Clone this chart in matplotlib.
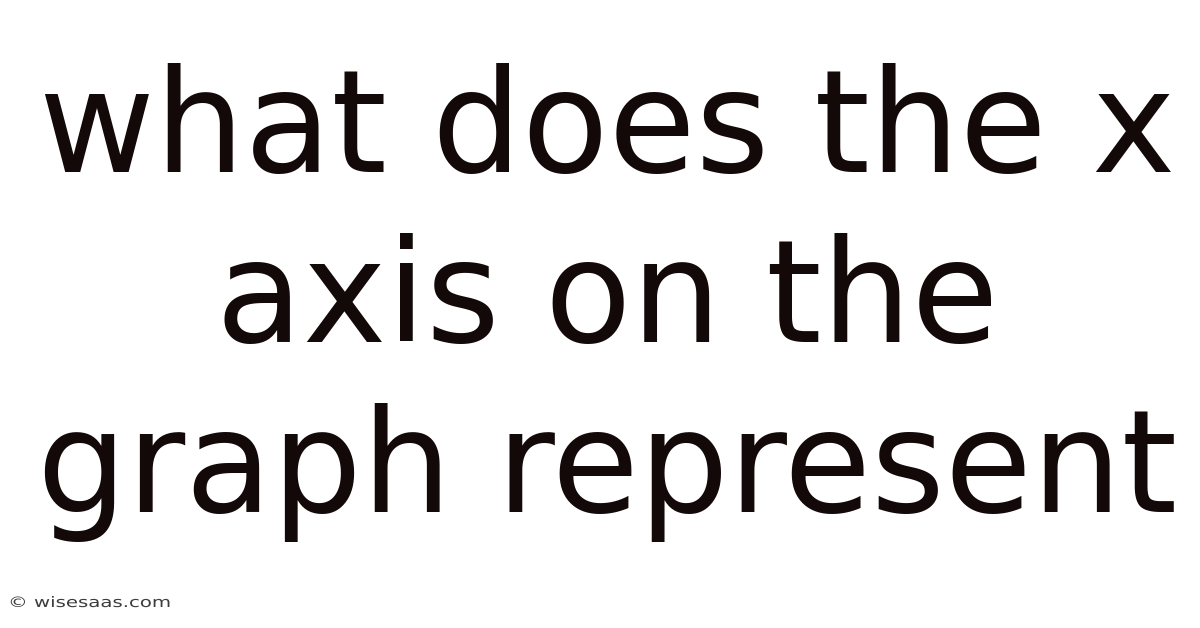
import matplotlib
matplotlib.use('Agg')
import matplotlib.pyplot as plt
from matplotlib.textpath import TextPath
from matplotlib.patches import PathPatch
from matplotlib.font_manager import FontProperties
from matplotlib.transforms import Affine2D

# title lines and footer
lines = ['what does the x', 'axis on the', 'graph represent']
baselines = [172, 342, 512]   # pixel rows of the baselines, from the top
footer = '\u00a9 wisesaas.com'

W, H = 1200, 628
fig = plt.figure(figsize=(W/100, H/100), dpi=100)
fig.patch.set_facecolor('white')

# axes in pixel units, used for the footer path
ax = fig.add_axes([0, 0, 1, 1])
ax.set_xlim(0, W)
ax.set_ylim(0, H)
ax.axis('off')

for txt, yb in zip(lines, baselines):
    fig.text(607/W, 1 - yb/H, txt, ha='center', va='baseline',
             fontsize=102, color='#130909', family='DejaVu Sans')

# the watermark is wider than plain DejaVu, so stretch it sideways
tp = TextPath((0, 0), footer, size=14.5, prop=FontProperties(family='DejaVu Sans'))
tp = Affine2D().scale(1.36, 1.0).translate(8, H - 607).transform_path(tp)
ax.add_patch(PathPatch(tp, facecolor='#3c3c3c', lw=0))

fig.savefig('out.png', dpi=100, facecolor='white')
